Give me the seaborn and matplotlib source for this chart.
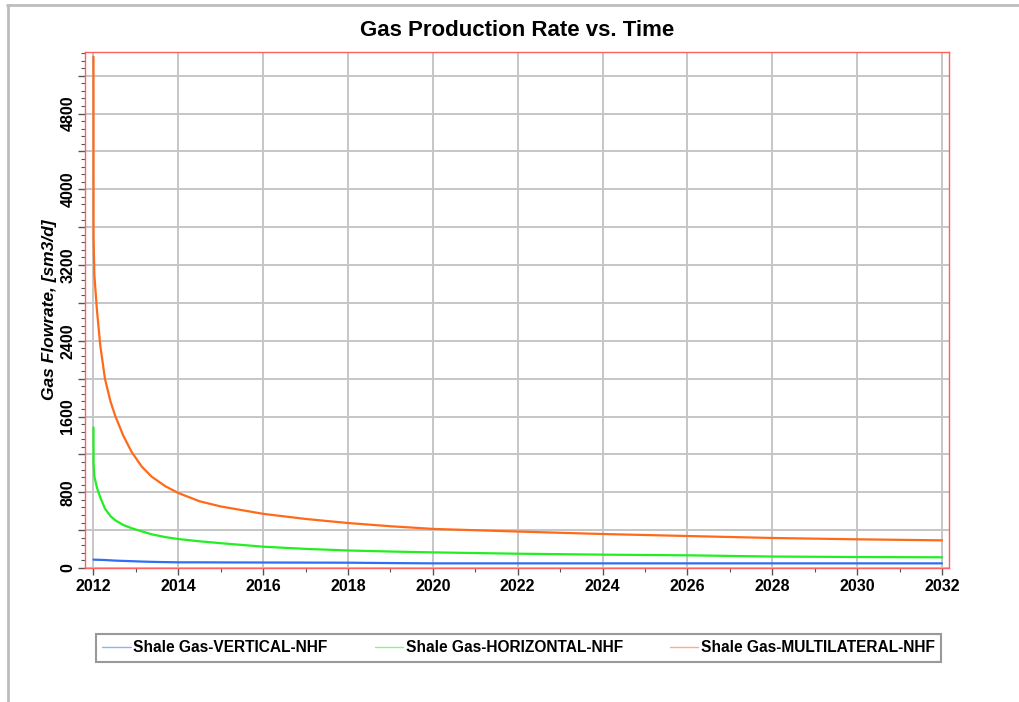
import numpy as np
import pandas as pd
import matplotlib
matplotlib.use("Agg")
import matplotlib.pyplot as plt
from matplotlib.ticker import MultipleLocator, FuncFormatter
from matplotlib.lines import Line2D
import seaborn as sns

# Simulation time (decimal years)
years = [2012.0, 2012.002, 2012.02, 2012.08, 2012.16, 2012.27, 2012.4, 2012.51,
         2012.7, 2012.9, 2013.14, 2013.37, 2013.7, 2014.0, 2014.5, 2015.0,
         2016.0, 2017.0, 2018.0, 2019.0, 2020.0, 2022.0, 2024.0, 2026.0,
         2028.0, 2030.0, 2032.0]

# Gas flowrate per well type, sm3/d
vertical_nhf = [88, 88, 88, 87, 86, 84, 81, 78, 75, 72, 68, 65, 62, 60, 60, 59,
                58, 57, 56, 52, 49, 49, 49, 49, 49, 49, 49]
horizontal_nhf = [1485, 1110, 968, 850, 745, 628, 548, 505, 455, 420, 387, 356,
                  326, 306, 282, 262, 225, 202, 185, 174, 165, 151, 141, 134,
                  121, 116, 113]
multilateral_nhf = [5400, 3500, 3100, 2730, 2350, 2000, 1760, 1610, 1400, 1225,
                    1070, 965, 862, 792, 705, 650, 572, 518, 475, 441, 413, 385,
                    359, 338, 317, 303, 292]

series_names = ["Shale Gas-VERTICAL-NHF", "Shale Gas-HORIZONTAL-NHF",
                "Shale Gas-MULTILATERAL-NHF"]
series_colors = ["#2f6ff5", "#22ee22", "#ff6a1a"]

df = pd.concat([
    pd.DataFrame({"Year": years, "Rate": vals, "Well": name})
    for name, vals in zip(series_names, [vertical_nhf, horizontal_nhf, multilateral_nhf])
], ignore_index=True)

sns.set_theme(style="white")
plt.rcParams["font.family"] = ["Liberation Sans", "DejaVu Sans"]
plt.rcParams["font.weight"] = "bold"
plt.rcParams["text.color"] = "black"
plt.rcParams["axes.labelcolor"] = "black"
plt.rcParams["xtick.labelcolor"] = "black"
plt.rcParams["ytick.labelcolor"] = "black"

fig = plt.figure(figsize=(10.2, 7.02), dpi=100)
ax = fig.add_axes([85 / 1020, 1 - 568 / 702, (949 - 85) / 1020, (568 - 52) / 702])

sns.lineplot(data=df, x="Year", y="Rate", hue="Well", hue_order=series_names,
             palette=series_colors, linewidth=1.6, ax=ax, legend=False,
             estimator=None, sort=False)

ax.set_xlim(2011.80, 2032.165)
ax.set_ylim(0, 5450)

ax.xaxis.set_major_locator(MultipleLocator(2))
ax.xaxis.set_minor_locator(MultipleLocator(1))
ax.yaxis.set_major_locator(MultipleLocator(400))
ax.yaxis.set_minor_locator(MultipleLocator(80))
ax.xaxis.set_major_formatter(FuncFormatter(lambda v, p: f"{int(round(v))}"))
ax.yaxis.set_major_formatter(
    FuncFormatter(lambda v, p: f"{int(round(v))}" if int(round(v)) % 800 == 0 else ""))

ax.grid(True, which="major", color="#c6c6c6", linewidth=1.4)
ax.set_axisbelow(True)

for s in ax.spines.values():
    s.set_color("#ff6060")
    s.set_linewidth(1.0)

ax.tick_params(axis="both", which="major", direction="out", length=5, width=1,
               color="#555555", bottom=True, left=True)
ax.tick_params(axis="both", which="minor", direction="out", length=3, width=0.8,
               color="#555555", bottom=True, left=True)
ax.tick_params(axis="x", labelsize=11.5, pad=3)
ax.tick_params(axis="y", labelsize=11.5, pad=2, labelrotation=90)
for lbl in ax.get_yticklabels():
    lbl.set_verticalalignment("center")

ax.set_xlabel("")
ax.set_ylabel("Gas Flowrate, [sm3/d]", fontsize=12.5, fontweight="bold",
              fontstyle="italic", va="center")
ax.yaxis.set_label_coords((50 - 85) / 864, 0.5)

fig.text(517 / 1020, 1 - 30 / 702, "Gas Production Rate vs. Time",
         ha="center", va="center", fontsize=16, fontweight="bold")

handles = [Line2D([], [], color=c, linewidth=1.0, alpha=0.55) for c in series_colors]
leg = fig.legend(handles, series_names, loc="center", ncol=3,
                 bbox_to_anchor=(518.5 / 1020, 1 - 648 / 702),
                 prop={"weight": "bold", "size": 11.2}, frameon=True,
                 fancybox=False, handlelength=1.85, handletextpad=0.15,
                 columnspacing=3.0, borderpad=0.4, borderaxespad=0)
leg.get_frame().set_edgecolor("#808080")
leg.get_frame().set_linewidth(1.5)

# Outer panel border (top and left edges)
fig.add_artist(Line2D([7 / 1020, 1.0], [1 - 5 / 702, 1 - 5 / 702],
                      transform=fig.transFigure, color="#bdbdbd", linewidth=2))
fig.add_artist(Line2D([8 / 1020, 8 / 1020], [1 - 5 / 702, 0.0],
                      transform=fig.transFigure, color="#bdbdbd", linewidth=2))

fig.savefig("out.png", dpi=100, facecolor="white")
